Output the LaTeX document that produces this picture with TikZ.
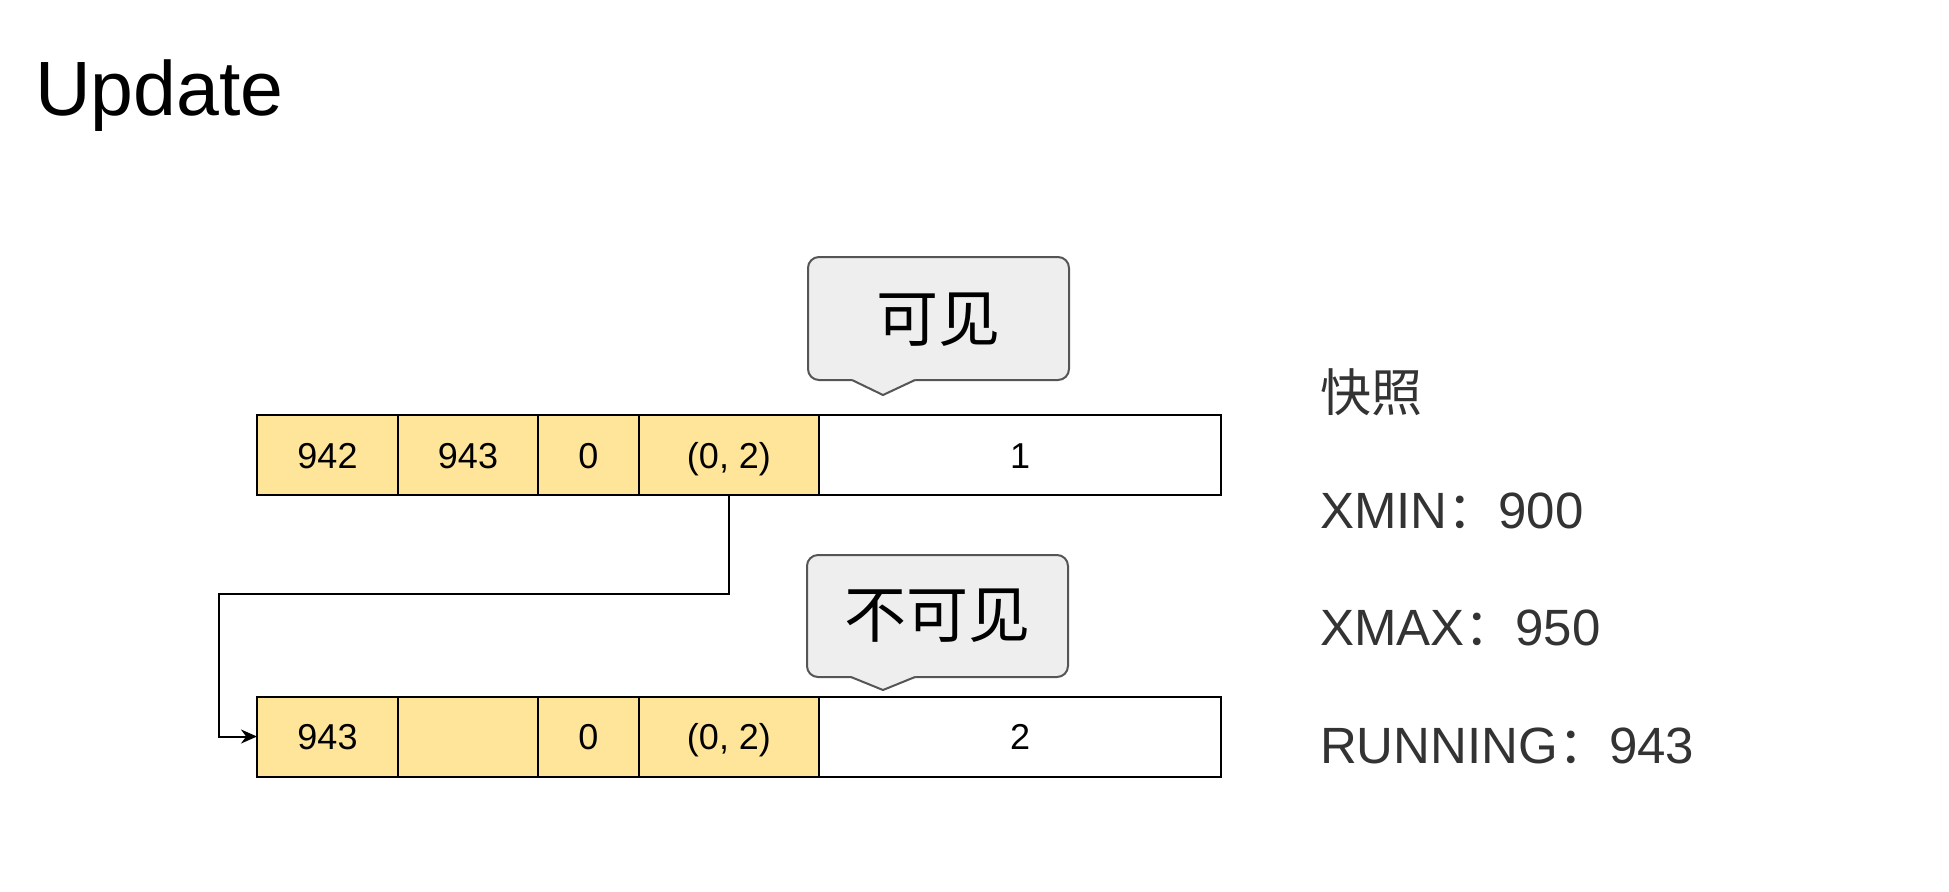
\documentclass[tikz,border=0pt]{standalone}
\usepackage{fontspec}
\setmainfont{Liberation Sans}
\newfontfamily\cjk{Noto Sans CJK SC}
\usetikzlibrary{positioning,arrows.meta}
\definecolor{cellfill}{RGB}{255,229,153}
\definecolor{bubblefill}{RGB}{238,238,238}
\definecolor{bubbleline}{RGB}{85,85,85}
\definecolor{infotext}{RGB}{51,51,51}
\begin{document}
\begin{tikzpicture}[x=0.5pt,y=-0.5pt]
\tikzset{every node/.style={inner sep=0pt,outer sep=0pt}}
\tikzset{cell/.style={draw=black,line width=1pt,minimum height=40pt,text height=13pt,text depth=0pt,font=\fontsize{18}{21}\selectfont},
         old/.style={cell,fill=cellfill},
         new/.style={cell,fill=white},
         bubble/.style={draw=bubbleline,fill=bubblefill,line width=1pt,rounded corners=5.5pt},
         tip/.style={draw=bubbleline,line width=1pt,line join=miter},
         info/.style={anchor=base west,text=infotext,font=\fontsize{25.5}{30}\selectfont},
         link/.style={draw=black,line width=1pt,-{Stealth[length=8pt,width=7pt]}}}
\useasboundingbox (0,0) rectangle (1949,891);
% title
\node[anchor=base west,font=\fontsize{38.5}{46}\selectfont] (title) at (35,115) {Update};
% first version
\node[old,minimum width=70.5pt,anchor=west] (t1) at (257,455) {942};
\node[old,minimum width=70pt,right=0pt of t1] (t2) {943};
\node[old,minimum width=50.5pt,right=0pt of t2] (t3) {0};
\node[old,minimum width=90pt,right=0pt of t3] (t4) {(0, 2)};
\node[new,minimum width=201pt,right=0pt of t4] (t5) {1};
% second version
\node[old,minimum width=70.5pt,anchor=west] (b1) at (257,736.5) {943};
\node[old,minimum width=70pt,right=0pt of b1] (b2) {};
\node[old,minimum width=50.5pt,right=0pt of b2] (b3) {0};
\node[old,minimum width=90pt,right=0pt of b3] (b4) {(0, 2)};
\node[new,minimum width=201pt,right=0pt of b4] (b5) {2};
% roll pointer
\coordinate (turn) at (219,594);
\draw[link] (t4.south) |- (turn) |- (b1.west);
% bubbles
\draw[bubble] (808,257) rectangle (1069,380);
\fill[bubblefill] (852,376) -- (852,380) -- (883,395) -- (915,380) -- (915,376) -- cycle;
\draw[tip] (852,380) -- (883,395) -- (915,380);
\node[font=\cjk\fontsize{31}{36}\selectfont] (seen) at (938,320) {可见};
\draw[bubble] (807,555) rectangle (1068,677);
\fill[bubblefill] (851,673) -- (851,677) -- (883,690) -- (915,677) -- (915,673) -- cycle;
\draw[tip] (851,677) -- (883,690) -- (915,677);
\node[font=\cjk\fontsize{31}{36}\selectfont] (unseen) at (937,616) {不可见};
% snapshot
\node[info,font=\cjk\fontsize{25.5}{30}\selectfont] (snap) at (1320,411) {快照};
\node[info] (xmin) at (1320,528) {XMIN{\cjk ：}900};
\node[info] (xmax) at (1320,645) {XMAX{\cjk ：}950};
\node[info] (run) at (1320,763) {RUNNING{\cjk ：}943};
\end{tikzpicture}
\end{document}
